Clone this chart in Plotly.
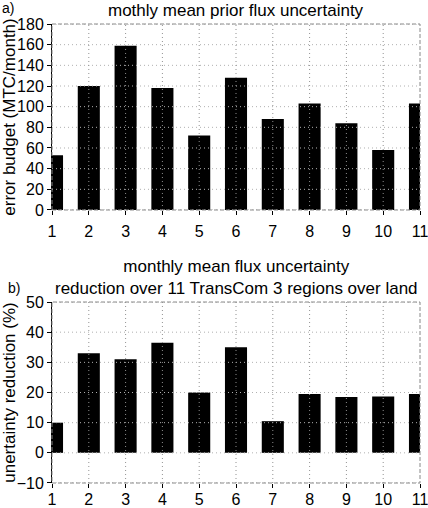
import plotly.graph_objects as go

months = [1, 2, 3, 4, 5, 6, 7, 8, 9, 10, 11]
prior_uncertainty = [53, 120, 159, 118, 72, 128, 88, 103, 84, 58, 103]
uncert_reduction = [10, 33, 31, 36.5, 20, 35, 10.5, 19.5, 18.5, 18.7, 19.5]

top_ticks = [0, 20, 40, 60, 80, 100, 120, 140, 160, 180]
bottom_ticks = [-10, 0, 10, 20, 30, 40, 50]

FONT = "Liberation Sans, Arial, Helvetica, sans-serif"
TOP_DOMAIN = [0.5948, 1]
BOTTOM_DOMAIN = [0, 0.3943]

fig = go.Figure()
fig.add_trace(go.Bar(x=months, y=prior_uncertainty, width=0.6,
                     marker=dict(color="black", line=dict(width=0)),
                     xaxis="x", yaxis="y"))
fig.add_trace(go.Bar(x=months, y=uncert_reduction, width=0.6,
                     marker=dict(color="black", line=dict(width=0)),
                     xaxis="x2", yaxis="y2"))

axis_common = dict(showgrid=False, zeroline=False, ticks="outside", ticklen=4,
                   tickcolor="black", automargin=False, ticklabeloverflow="allow",
                   tickfont=dict(size=16, color="black", family=FONT))

fig.update_layout(
    width=428, height=508,
    margin=dict(l=52, r=8, t=24, b=25),
    paper_bgcolor="white", plot_bgcolor="white",
    showlegend=False,
    font=dict(family=FONT, color="black"),
    xaxis=dict(domain=[0, 1], range=[1, 11], tickvals=months, anchor="y",
               ticklabelstandoff=3, **axis_common),
    yaxis=dict(domain=TOP_DOMAIN, range=[0, 180], tickvals=top_ticks, anchor="x",
               showline=True, linecolor="black", linewidth=1,
               title=dict(text="error budget (MTC/month)", font=dict(size=17)),
               **axis_common),
    xaxis2=dict(domain=[0, 1], range=[1, 11], tickvals=months, anchor="y2",
                ticklabelstandoff=-2, **axis_common),
    yaxis2=dict(domain=BOTTOM_DOMAIN, range=[-10, 50], tickvals=bottom_ticks, anchor="x2",
                showline=True, linecolor="black", linewidth=1,
                title=dict(text="unertainty reduction (%)", font=dict(size=17)),
                **axis_common),
)

shapes = []
# dotted grid drawn above bars, at the tick positions
for xr, yr, ticks, yrange in [("x", "y", top_ticks, (0, 180)), ("x2", "y2", bottom_ticks, (-10, 50))]:
    for t in ticks:
        shapes.append(dict(type="line", xref=xr, yref=yr, x0=1, x1=11, y0=t, y1=t,
                           line=dict(color="#b0b0b0", width=1, dash="1px,3px"), layer="above"))
    for m in months[1:-1]:
        shapes.append(dict(type="line", xref=xr, yref=yr, x0=m, x1=m, y0=yrange[0], y1=yrange[1],
                           line=dict(color="#909090", width=1, dash="1px,3px"), layer="above"))
    # dashed frame
    shapes.append(dict(type="rect", xref=xr + " domain", yref=yr + " domain", x0=0, x1=1, y0=0, y1=1,
                       line=dict(color="#888888", width=1, dash="4px,2px"), layer="above"))
fig.update_layout(shapes=shapes)

fig.add_annotation(text="mothly mean prior flux uncertainty", xref="paper", yref="paper",
                   x=0.5, y=1, yshift=2, xanchor="center", yanchor="bottom", showarrow=False,
                   font=dict(size=17))
fig.add_annotation(text="a)", xref="paper", yref="paper", x=-0.14, y=1, yshift=6,
                   xanchor="left", yanchor="bottom", showarrow=False, font=dict(size=14))
fig.add_annotation(text="monthly mean flux uncertainty<br>reduction over 11 TransCom 3 regions over land",
                   xref="paper", yref="paper", x=0.5, y=BOTTOM_DOMAIN[1], yshift=2,
                   xanchor="center", yanchor="bottom", showarrow=False, font=dict(size=17))
fig.add_annotation(text="b)", xref="paper", yref="paper", x=-0.125, y=BOTTOM_DOMAIN[1], yshift=4,
                   xanchor="left", yanchor="bottom", showarrow=False, font=dict(size=14))

# the page body has a default 8px margin; drop it so the figure sits at the window origin
fig.write_html("out.html", config={"displayModeBar": False},
               post_script="document.body.style.margin='0';")
